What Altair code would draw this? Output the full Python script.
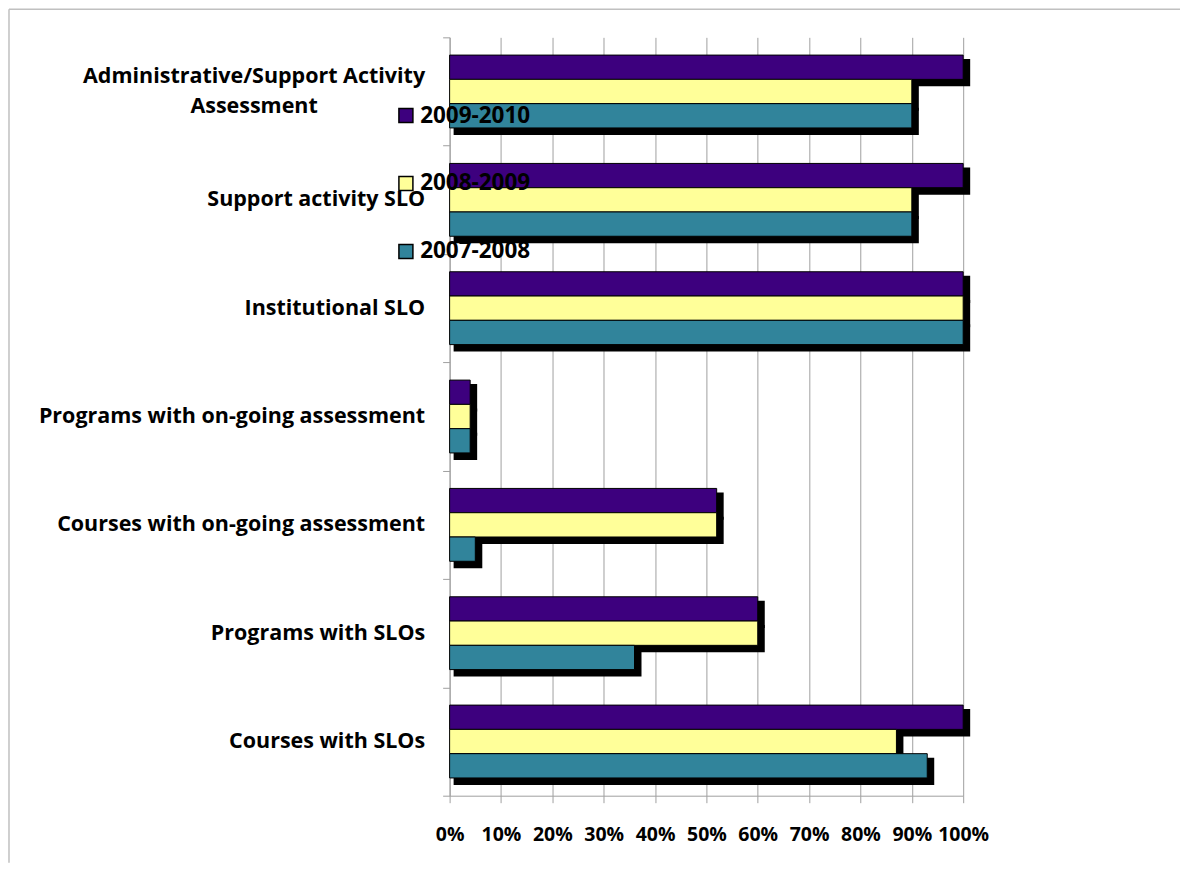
import altair as alt
import pandas as pd

categories = [
    "Administrative/Support Activity Assessment",
    "Support activity SLO",
    "Institutional SLO",
    "Programs with on-going assessment",
    "Courses with on-going assessment",
    "Programs with SLOs",
    "Courses with SLOs",
]
series = ["2009-2010", "2008-2009", "2007-2008"]
vals_2009_2010 = [100, 100, 100, 4, 52, 60, 100]
vals_2008_2009 = [90, 90, 100, 4, 52, 60, 87]
vals_2007_2008 = [90, 90, 100, 4, 5, 36, 93]
colors = ["#3d007e", "#ffff99", "#31849b"]
x_ticks = [0, 10, 20, 30, 40, 50, 60, 70, 80, 90, 100]

rows = []
for s, vals in zip(series, [vals_2009_2010, vals_2008_2009, vals_2007_2008]):
    for c, v in zip(categories, vals):
        rows.append({"category": c, "series": s, "value": v})
df = pd.DataFrame(rows)

FONT = "Open Sans"
EM = "\u2003"
WJ = "\u2060"
ADMIN = "Administrative/Support Activity Assessment"
label_expr = (
    "datum.value == '" + ADMIN + "' ? "
    "['Administrative/Support Activity', 'Assessment" + EM * 5 + WJ + "'] : datum.value"
)

y_enc = alt.Y(
    "category:N",
    sort=categories,
    scale=alt.Scale(paddingInner=0, paddingOuter=0),
    axis=alt.Axis(
        title=None,
        tickBand="extent",
        tickSize=7,
        tickColor="#a0a0a0",
        domainColor="#a0a0a0",
        labelPadding=18,
        labelLimit=600,
        labelFontSize=21.5,
        labelLineHeight=30,
        labelExpr=label_expr,
        labelOffset={"condition": {"test": "datum.value == '" + ADMIN + "'", "value": -15}, "value": 0},
        grid=False,
    ),
)

x_enc = alt.X(
    "value:Q",
    scale=alt.Scale(domain=[0, 100], nice=False),
    axis=alt.Axis(
        title=None,
        values=x_ticks,
        labelExpr="datum.value + '%'",
        tickSize=7,
        tickColor="#a0a0a0",
        domainColor="#a0a0a0",
        gridColor="#a0a0a0",
        grid=True,
        labelPadding=23,
        labelFontSize=19.5,
        labelOverlap=False,
        labelFlush=False,
    ),
)

shadow = alt.Chart(df).mark_bar(
    color="black", stroke="black", strokeWidth=3, strokeJoin="miter",
    xOffset=5.5, x2Offset=5.5,
).encode(
    x=x_enc,
    y=y_enc,
    yOffset=alt.YOffset(
        "series:N", sort=series,
        scale=alt.Scale(domain=series, paddingInner=0, paddingOuter=0.731, align=0.655),
    ),
)

bars = alt.Chart(df).mark_bar(stroke="black", strokeWidth=1).encode(
    x=x_enc,
    y=y_enc,
    yOffset=alt.YOffset(
        "series:N", sort=series,
        scale=alt.Scale(domain=series, paddingInner=0, paddingOuter=0.731, align=0.5),
    ),
    color=alt.Color(
        "series:N",
        scale=alt.Scale(domain=series, range=colors),
        legend=alt.Legend(
            title=None,
            orient="none",
            legendX=-55,
            legendY=67,
            symbolType="square",
            symbolSize=196,
            symbolStrokeColor="black",
            symbolStrokeWidth=1.5,
            symbolOpacity=1,
            labelFontSize=22.5,
            labelFont=FONT,
            labelFontWeight="bold",
            labelColor="black",
            labelOffset=3,
            rowPadding=45,
        ),
    ),
)

frame_df = pd.DataFrame({"f": [0]})
frame_top = alt.Chart(frame_df).mark_rule(color="#c0c0c0", strokeWidth=1.5).encode(
    x=alt.value(-441), x2=alt.value(731), y=alt.value(-28)
)
frame_left = alt.Chart(frame_df).mark_rule(color="#c0c0c0", strokeWidth=1.5).encode(
    x=alt.value(-441), y=alt.value(-28), y2=alt.value(826)
)

chart = (
    alt.layer(frame_top, frame_left, shadow, bars)
    .resolve_scale(yOffset="independent")
    .properties(width=514, height=759, padding=0)
    .configure_view(stroke=None)
    .configure_axis(labelFont=FONT, labelFontWeight="bold", labelColor="black")
    .configure_legend(labelFont=FONT, labelFontWeight="bold", labelColor="black")
)

chart.save("out.html", embed_options={"renderer": "svg", "actions": False})
